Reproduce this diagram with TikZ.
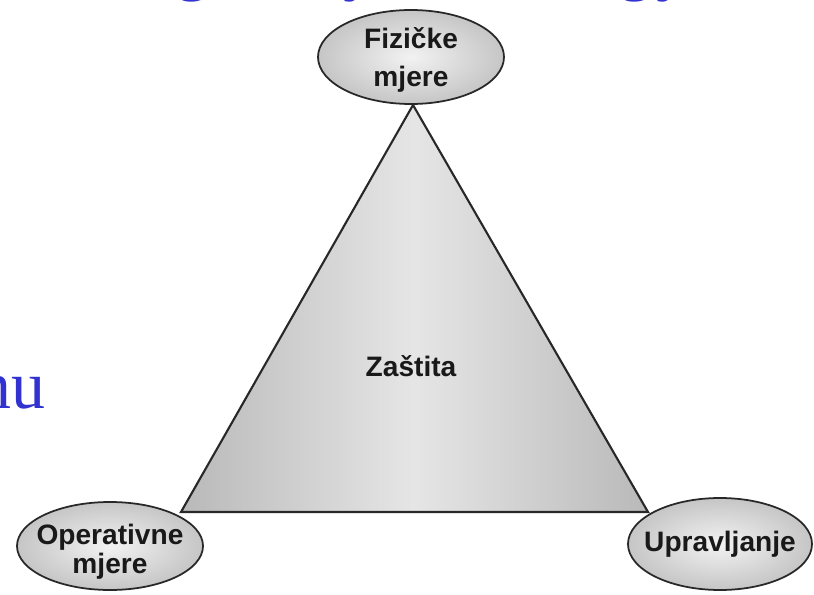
\documentclass[tikz,border=0pt]{standalone}
\usepackage{fontspec}
\setmainfont{Liberation Serif}
\setsansfont{Liberation Sans}
\usetikzlibrary{shapes.geometric}

\definecolor{slideblue}{RGB}{50,50,208}
\definecolor{edgegray}{RGB}{40,40,40}
\definecolor{inkgray}{RGB}{25,25,25}

\tikzset{
  oval/.style={ellipse, draw=edgegray, line width=1.5pt, inner sep=0pt,
    inner color=gray!10, outer color=gray!45},
  ovaltext/.style={font=\sffamily\bfseries\fontsize{24}{28}\selectfont,
    text=inkgray, align=center, inner sep=0pt},
  pyramid/.style={draw=edgegray, line width=1.8pt, line join=miter,
    left color=gray!55, right color=gray!55, middle color=gray!20},
  titleglyph/.style={font=\fontsize{58}{60}\selectfont, text=slideblue,
    inner sep=0pt, anchor=base}
}

\begin{document}
\begin{tikzpicture}[x=0.03cm,y=-0.03cm]
  \useasboundingbox (0,0) rectangle (814,595);

  % slide text around the figure, cut by the frame
  \begin{scope}
    \clip (0,0) rectangle (814,595);
    \node[titleglyph] (t1) at (192,-12) {g};
    \node[titleglyph] (t2) at (360,-12) {y};
    \node[titleglyph] (t3) at (635,-12) {g};
    \node[titleglyph] (t4) at (673,-12) {y};
    \node[titleglyph, anchor=base east] (side) at (46,408) {nu};
  \end{scope}

  % corners of the triangle
  \coordinate (apex) at (413,105);
  \coordinate (bl) at (181,512);
  \coordinate (br) at (648,512);

  \path[pyramid] (apex) -- (bl) -- (br) -- cycle;
  \draw[edgegray, line width=2.3pt] (bl) -- (br);

  \node[ovaltext] (centre) at (411,366) {Zaštita};

  % the three measures
  \node[oval, minimum width=5.58cm, minimum height=2.82cm] (fiz) at (411,57) {};
  \node[ovaltext] (fizt) at (411,60) {Fizičke\\[4pt]mjere};

  \node[oval, minimum width=5.58cm, minimum height=2.64cm] (op) at (110,546) {};
  \node[ovaltext] (opt) at (110,552) {Operativne\\[-3pt]mjere};

  \node[oval, minimum width=5.52cm, minimum height=2.76cm] (up) at (720,544) {};
  \node[ovaltext] (upt) at (up.center) {Upravljanje};
\end{tikzpicture}
\end{document}
